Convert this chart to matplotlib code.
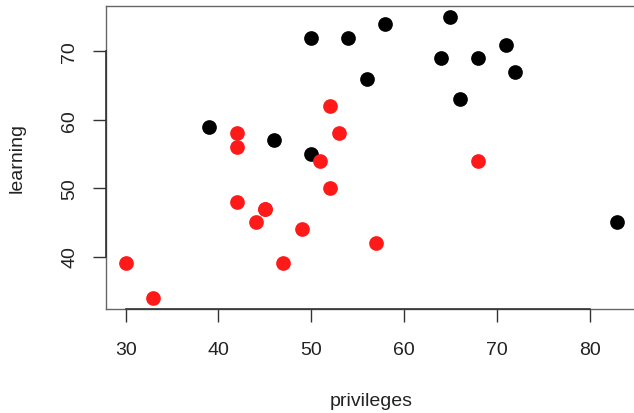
import matplotlib
matplotlib.use("Agg")
import matplotlib.pyplot as plt

plt.rcParams['font.family'] = ['Liberation Sans', 'DejaVu Sans']

# data (attitude: privileges vs learning)
black_privileges = [39, 46, 50, 50, 54, 56, 58, 64, 65, 66, 68, 71, 72, 83]
black_learning   = [59, 57, 72, 55, 72, 66, 74, 69, 75, 63, 69, 71, 67, 45]
red_privileges = [30, 33, 42, 42, 42, 44, 45, 45, 47, 49, 51, 52, 52, 53, 57, 68]
red_learning   = [39, 34, 58, 56, 48, 45, 47, 47, 39, 44, 54, 62, 50, 58, 42, 54]
x_ticks = [30, 40, 50, 60, 70, 80]
y_ticks = [40, 50, 60, 70]
x_label = "privileges"
y_label = "learning"

W, H = 634, 414
fig = plt.figure(figsize=(W / 100, H / 100), dpi=100)
left, right, top, bottom = 106, 637, 7, 309.8
ax = fig.add_axes([left / W, 1 - bottom / H, (right - left) / W, (bottom - top) / H])

allx = black_privileges + red_privileges
ally = black_learning + red_learning
xr = max(allx) - min(allx)
yr = max(ally) - min(ally)
ax.set_xlim(min(allx) - 0.04 * xr, max(allx) + 0.04 * xr)
ax.set_ylim(min(ally) - 0.04 * yr, max(ally) + 0.04 * yr)

ax.scatter(black_privileges, black_learning, s=112, color='black', linewidths=0, zorder=3)
ax.scatter(red_privileges, red_learning, s=112, color='#ff1a1a', linewidths=0, zorder=3)

for sp in ax.spines.values():
    sp.set_color('#666666')
    sp.set_linewidth(1.0)
ax.spines['right'].set_visible(False)

ax.set_xticks(x_ticks)
ax.set_yticks(y_ticks)
ax.tick_params(axis='both', length=9.4, width=1.0, color='#333333',
               labelsize=14, labelcolor='#222222')
ax.tick_params(axis='x', pad=14)
ax.tick_params(axis='y', pad=10.5)
for lab in ax.get_yticklabels():
    lab.set_rotation(90)
    lab.set_va('center')

# axis lines between first and last tick
ax.plot([x_ticks[0], x_ticks[-1]], [0, 0], transform=ax.get_xaxis_transform(),
        color='#333333', lw=1.2, clip_on=False, zorder=4)
ax.plot([0, 0], [y_ticks[0], y_ticks[-1]], transform=ax.get_yaxis_transform(),
        color='#333333', lw=1.2, clip_on=False, zorder=4)

fig.text((left + 636) / 2 / W, 1 - 402 / H, x_label, ha='center', va='center',
         fontsize=14, color='#222222')
fig.text(17 / W, 1 - 158 / H, y_label, ha='center', va='center', rotation=90,
         fontsize=14, color='#222222')

fig.savefig('out.png', dpi=100)
